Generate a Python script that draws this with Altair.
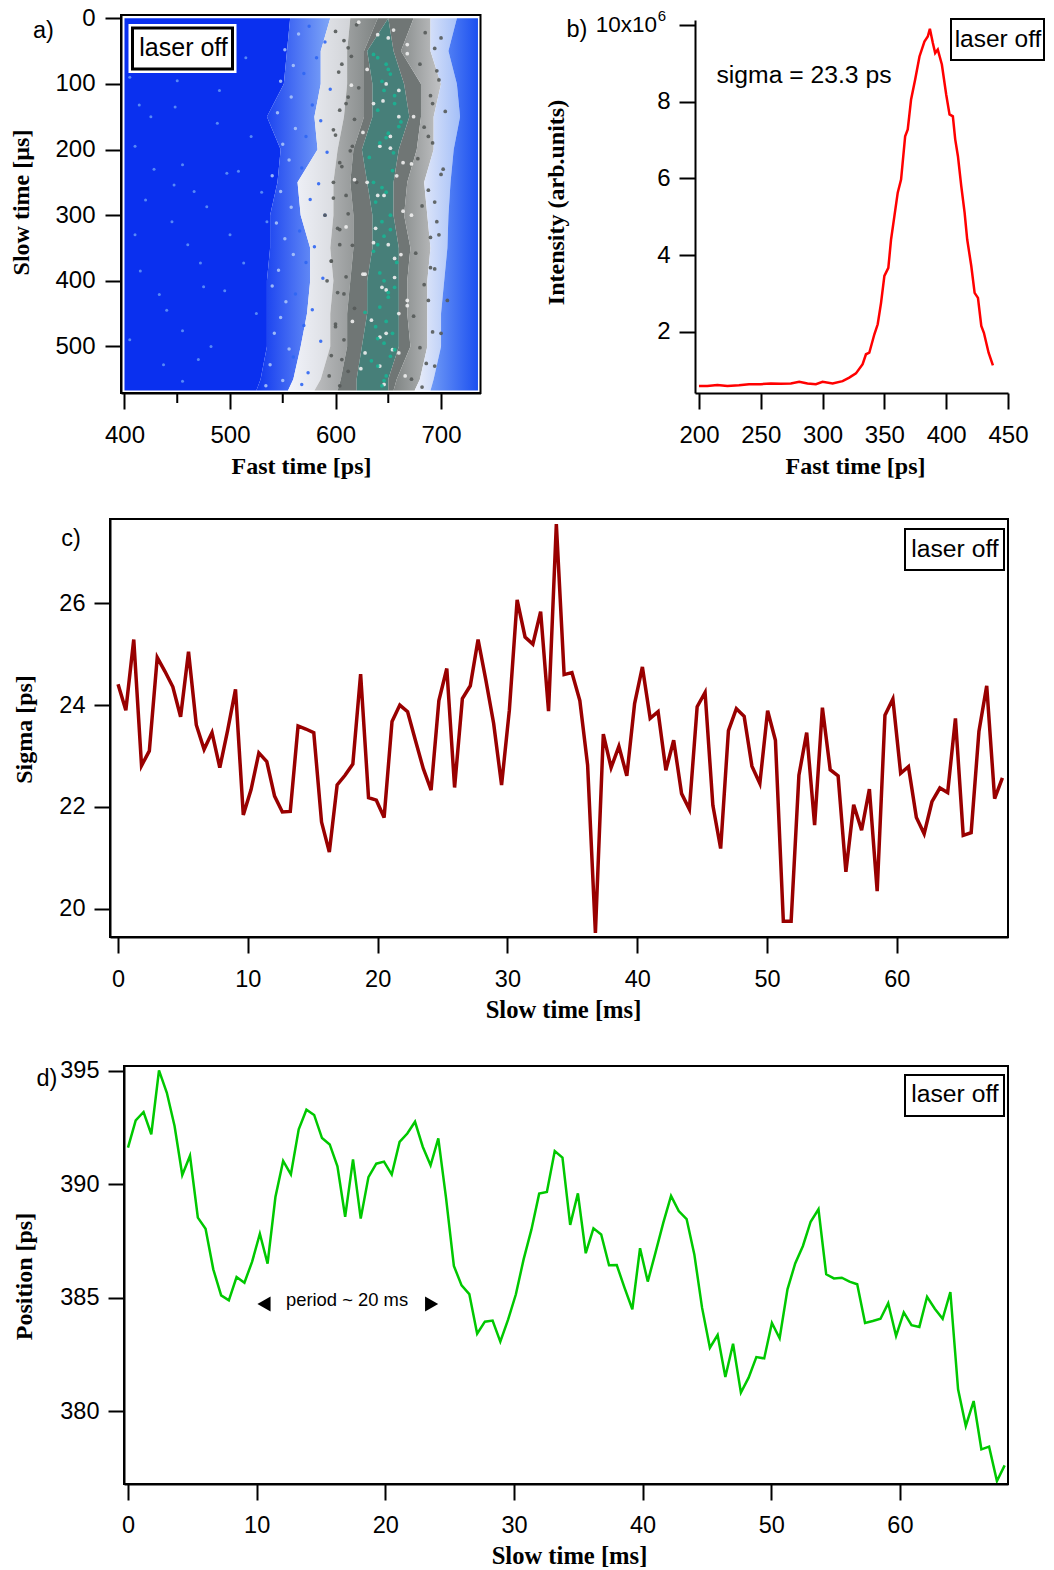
import altair as alt
import pandas as pd

# ---------- panel b ----------
pulse_ps = [200,206.8,214.9,223,232.4,240.5,250,258.1,266.2,274.3,281.1,287.8,294.6,300,308.1,316.2,321.6,327,332.4,335.1,337.8,341.9,344.6,347.3,350,353.2,355.4,358.1,360.8,363.5,366.8,368.9,371.6,374.9,378.4,382.4,385.1,386.8,389.2,391.1,393.2,396.5,400,402.7,405.4,407.3,409.5,412.2,414.9,417,420.3,423,425.7,428.4,430.5,434.3,437.8]
pulse_int = [.59,.59,.62,.59,.61,.64,.64,.66,.65,.66,.70,.66,.64,.70,.66,.72,.81,.92,1.16,1.42,1.46,1.94,2.2,2.76,3.46,3.67,4.41,5.02,5.63,5.97,7.1,7.28,8.06,8.58,9.18,9.57,9.7,9.9,9.53,9.27,9.36,8.97,8.19,7.67,7.62,7.02,6.58,5.8,5.11,4.41,3.72,3.02,2.89,2.16,1.98,1.46,1.13]

# ---------- panels c, d ----------
slow_ms = [0,.6,1.21,1.81,2.41,3.02,3.62,4.22,4.82,5.43,6.03,6.63,7.24,7.84,8.44,9.05,9.65,10.25,10.85,11.46,12.06,12.66,13.27,13.87,14.47,15.08,15.68,16.28,16.88,17.49,18.09,18.69,19.3,19.9,20.5,21.11,21.71,22.31,22.91,23.52,24.12,24.72,25.33,25.93,26.53,27.14,27.74,28.34,28.94,29.55,30.15,30.75,31.36,31.96,32.56,33.17,33.77,34.37,34.97,35.58,36.18,36.78,37.39,37.99,38.59,39.2,39.8,40.4,41,41.61,42.21,42.81,43.42,44.02,44.62,45.23,45.83,46.43,47.03,47.64,48.24,48.84,49.45,50.05,50.65,51.26,51.86,52.46,53.06,53.67,54.27,54.87,55.48,56.08,56.68,57.29,57.89,58.49,59.09,59.7,60.3,60.9,61.51,62.11,62.71,63.32,63.92,64.52,65.12,65.73,66.33,66.93,67.54,68.14]
sigma = [24.41,23.9,25.29,22.81,23.1,24.94,24.66,24.36,23.77,25.05,23.61,23.13,23.46,22.77,23.5,24.31,21.84,22.34,23.06,22.89,22.21,21.9,21.91,23.59,23.53,23.46,21.7,21.11,22.43,22.62,22.84,24.61,22.18,22.13,21.79,23.68,24.0,23.87,23.31,22.75,22.33,24.09,24.72,22.38,24.13,24.38,25.29,24.49,23.64,22.43,23.9,26.07,25.34,25.2,25.84,23.88,27.56,24.6,24.64,24.09,22.82,19.52,23.43,22.77,23.19,22.61,24.03,24.75,23.74,23.87,22.72,23.31,22.26,21.95,23.97,24.25,22.03,21.18,23.5,23.93,23.78,22.8,22.46,23.89,23.31,19.75,19.75,22.62,23.46,21.64,23.95,22.73,22.61,20.72,22.04,21.54,22.35,20.34,23.8,24.12,22.66,22.79,21.79,21.47,22.1,22.37,22.28,23.74,21.44,21.49,23.48,24.38,22.16,22.57]
position = [391.62,392.82,393.19,392.21,395.03,394.04,392.57,390.41,391.26,388.53,388.04,386.25,385.1,384.88,385.91,385.66,386.59,387.82,386.5,389.44,391.03,390.44,392.43,393.29,393.06,392.04,391.76,390.79,388.57,391.1,388.49,390.32,390.91,391.0,390.43,391.87,392.24,392.76,391.66,390.84,392.03,389.4,386.4,385.54,385.16,383.41,383.94,383.99,383.06,384.04,385.15,386.69,388.01,389.59,389.66,391.47,391.18,388.21,389.6,386.96,388.06,387.79,386.43,386.44,385.44,384.49,387.18,385.71,386.99,388.31,389.49,388.82,388.47,386.91,384.56,382.79,383.35,381.5,382.97,380.81,381.47,382.38,382.32,383.88,383.21,385.37,386.51,387.28,388.35,388.9,386.03,385.85,385.88,385.71,385.59,383.88,383.97,384.07,384.76,383.31,384.35,383.79,383.71,385.04,384.51,384.07,385.25,380.96,379.34,380.44,378.31,378.43,376.91,377.6]

# ---------- panel a: streak image, band edges per slow-time row ----------
rows_us = [0,50,100,150,200,250,300,350,400,450,500,550,567]
e1 = [557,554,551,535,548,545,538,538,535,535,535,529,525]
e2 = [595,586,586,580,583,564,567,576,576,573,567,560,555]
e3 = [614,611,611,608,602,598,598,595,598,595,595,586,580]
e4 = [640,627,627,627,617,614,617,617,614,611,611,605,602]
c1 = [650,630,635,635,625,630,635,635,630,630,625,620,620]
c2 = [650,655,665,670,660,655,655,660,660,660,660,650,650]
e5 = [674,662,681,681,677,668,665,671,668,668,671,658,655]
e6 = [690,690,700,693,693,684,687,690,687,687,687,680,675]
e7 = [715,707,715,718,712,709,707,706,703,700,700,693,690]
e8 = [735,735,735,735,735,735,735,735,735,735,735,735,735]
e0 = [400]*13

blue_x = [410,425,448,414,466,455,497,508,437,455,455,475,433,472,513,445,478,420,447,430,405,490,520,462,410,500,440,482,530,415,470,525,450,405,495,515,428,488,535,460]
blue_y = [195,150,135,132,264,223,236,233,528,553,476,409,421,373,373,310,287,277,254,60,90,110,180,35,330,330,445,500,265,385,520,450,95,490,415,60,230,160,310,345]
fringe_x = [565,552,560,548,558,545,562,550,556,540,548,558,544,552,560,546,540,553,548,542,556,538,550,534]
fringe_y = [24,48,72,96,120,144,168,192,216,240,264,288,312,336,360,384,408,432,456,480,504,528,552,560]
inblue_x = [575,590,582,570,595,578,586,572,592,568,584,576,590,566,580,572,588,562,578,570,586,560,574,568]
inblue_y = [12,36,60,84,108,132,156,180,204,228,252,276,300,324,348,372,396,420,444,468,492,516,540,558]
dark_x = [600,606,612,598,604,610,602,596,608,600,606,594,590,604,700,696,692,688,702,694,698,690,706,700,694,598,592,612,616,604,
          620,608,615,603,622,610,618,600,614,606,620,598,612,604,616,596,610,602,618,600,608,596,612,604,
          685,694,680,698,690,704,684,692,678,700,688,682,696,690,676,694,684,688,674,692,680,686,672,682]
dark_y = [20,70,120,170,220,270,320,370,420,470,520,545,300,140,30,80,130,180,230,280,330,380,430,480,530,250,400,45,195,345,
          10,34,58,82,106,130,154,178,202,226,250,274,298,322,346,370,394,418,442,466,490,514,538,560,
          22,46,70,94,118,142,166,190,214,238,262,286,310,334,358,382,406,430,454,478,502,526,550,562]
white_x = [640,655,668,648,636,660,674,642,652,664,630,646,658,672,638,650,662,626,644,656,668,634,648,660,628,642,654,666,
           622,650,668,630,615,645,660,626,652,672,618,640,664,610,636,656,628,648,668,616,642,660,624,646]
white_y = [25,18,40,100,130,110,150,195,180,220,250,270,240,300,320,345,360,390,410,395,430,460,480,450,510,530,505,545,
           6,30,54,78,102,126,150,174,198,222,246,270,294,318,342,366,390,414,438,462,486,510,534,558]
teal_x = [640,648,652,646,656,660,642,650,655,636,648,644,652,640,646,656,650,642,638,654,646,652,640,648,644,
          636,650,644,656,640,662,648,632,654,644,638,652,646,636,658,642,650,628,648,640,656,634,646]
teal_y = [60,70,85,110,130,165,190,175,205,250,265,310,322,345,400,410,425,440,470,480,495,515,530,545,560,
          55,78,96,118,140,158,182,212,232,258,280,300,332,355,372,388,418,448,462,488,505,522,552]

FONT = "Liberation Sans"
SERIF = "Liberation Serif"
one = alt.Data(values=[{"a": 1}])


def ann(text, px, py, ox, oy, size=23, align="center"):
    return alt.Chart(one).mark_text(text=text, font=FONT, fontSize=size, color="black",
                                    align=align, baseline="middle", clip=False).encode(
        x=alt.value(px - ox), y=alt.value(py - oy))


def box(x0, x1, y0, y1, ox, oy, width=2, fill="white", stroke="black", opacity=1):
    return alt.Chart(one).mark_rect(fill=fill, fillOpacity=opacity, stroke=stroke, strokeWidth=width).encode(
        x=alt.value(x0 - ox), x2=alt.value(x1 - ox), y=alt.value(y0 - oy), y2=alt.value(y1 - oy))


def spacer(w, h):
    return alt.Chart(one).mark_rect(opacity=0).encode(
        x=alt.value(0), x2=alt.value(w), y=alt.value(0), y2=alt.value(h)).properties(width=w, height=h)


def axis(values, title, orient, title_x, title_y, label_pad, size=23.5, title_size=24, **kw):
    return alt.Axis(values=values, title=title, orient=orient, grid=False, format="d", domainColor="black",
                    domainWidth=2, tickColor="black", tickWidth=2, tickSize=16, labelFont=FONT, labelFontSize=size,
                    labelColor="black", titleFont=SERIF, titleFontSize=title_size, titleFontWeight="bold",
                    titleColor="black", labelPadding=label_pad, titleX=title_x, titleY=title_y, labelOverlap=False,
                    labelFlush=False, **kw)


def grad(c0, c1):
    return alt.LinearGradient(gradient="linear", x1=0, x2=1, y1=0, y2=0,
                              stops=[alt.GradientStop(offset=0, color=c0), alt.GradientStop(offset=1, color=c1)])


# ---------- panel a ----------
AX, AY, AW, AH = 120.5, 15, 359.5, 378
xa = alt.Scale(domain=[396.7, 737.4], nice=False, zero=False)
ya = alt.Scale(domain=[571, -5], nice=False, zero=False)
xa_axis = axis([400, 500, 600, 700], "Fast time [ps]", "bottom", 180, 61, 14, 24)
ya_axis = axis([0, 100, 200, 300, 400, 500], "Slow time [µs]", "left", -87.5, 187, 10, 24)
edges = pd.DataFrame({"t": rows_us, "e0": e0, "e1": e1, "e2": e2, "e3": e3, "e4": e4, "c1": c1, "c2": c2,
                      "e5": e5, "e6": e6, "e7": e7, "e8": e8})
bands = [("e0", "e1", "#0a30ef"), ("e1", "e2", grad("#0e36ef", "#7fa6f7")), ("e2", "e3", grad("#f2f4fb", "#d2d4d8")),
         ("e3", "e4", grad("#bcbdbf", "#7f8483")), ("e4", "c1", "#707675"), ("c1", "c2", "#477f79"),
         ("c2", "e5", "#707675"), ("e5", "e6", grad("#7f8483", "#c2c3c5")),
         ("e6", "e7", grad("#eceff9", "#a4bff8")), ("e7", "e8", grad("#6f9af6", "#1c50f0"))]
layers_a = []
for lo, hi, col in bands:
    layers_a.append(alt.Chart(edges).mark_area(orient="horizontal", color=col, opacity=1).encode(
        x=alt.X(f"{lo}:Q", scale=xa, axis=xa_axis), x2=f"{hi}:Q",
        y=alt.Y("t:Q", scale=ya, axis=ya_axis)))


def specks(xs, ys, color, size):
    return alt.Chart(pd.DataFrame({"x": xs, "y": ys})).mark_circle(color=color, size=size, opacity=0.9).encode(
        x=alt.X("x:Q", scale=xa, axis=xa_axis), y=alt.Y("y:Q", scale=ya, axis=ya_axis))


layers_a += [specks(blue_x, blue_y, "#5f92f7", 9), specks(fringe_x, fringe_y, "#a9c3fa", 12),
             specks(inblue_x, inblue_y, "#2f66f3", 12), specks(dark_x, dark_y, "#555a59", 14),
             specks(white_x, white_y, "#f0f0f0", 14), specks(teal_x, teal_y, "#19b493", 14)]
minor = alt.Chart(pd.DataFrame({"x": [450, 550, 650]})).mark_rule(color="black", strokeWidth=2, clip=False).encode(
    x=alt.X("x:Q", scale=xa, axis=xa_axis), y=alt.value(AH), y2=alt.value(AH + 10))
panel_a = alt.layer(
    *layers_a, minor,
    box(120.5, 480, 15, 393, AX, AY, opacity=0),
    box(128, 236, 24, 73, AX, AY, width=0, stroke="white"),
    box(132, 232, 28, 69, AX, AY, width=3),
    ann("laser off", 183, 48, AX, AY, 25),
    ann("a)", 43, 31, AX, AY, 23.5),
).properties(width=AW, height=AH)

# ---------- panel b ----------
BX, BY, BW, BH = 694, 20, 313, 373
line_b = alt.Chart(pd.DataFrame({"x": pulse_ps, "y": pulse_int})).mark_line(color="#ff0000", strokeWidth=2.5).encode(
    x=alt.X("x:Q", scale=alt.Scale(domain=[196.8, 450], nice=False, zero=False),
            axis=axis([200, 250, 300, 350, 400, 450], "Fast time [ps]", "bottom", 160, 61, 14, 24)),
    y=alt.Y("y:Q", scale=alt.Scale(domain=[0.41, 10.13], nice=False, zero=False),
            axis=axis([2, 4, 6, 8, 10], "Intensity (arb.units)", "left", -127, 182, 9, 24,
                      labelExpr="datum.value == 10 ? '' : datum.label")))
panel_b = alt.layer(
    line_b,
    box(950, 1043, 19, 60, BX, BY),
    ann("laser off", 997, 40, BX, BY, 24.5),
    ann("sigma = 23.3 ps", 803, 76, BX, BY, 24.7),
    ann("b)", 576, 30, BX, BY, 23.5),
    ann("10x10", 656, 25, BX, BY, 22.5, "right"),
    ann("6", 661, 16, BX, BY, 15),
).properties(width=BW, height=BH)

# ---------- panel c ----------
CX, CY, CW, CH = 110, 518, 898, 418
line_c = alt.Chart(pd.DataFrame({"x": slow_ms, "y": sigma})).mark_line(color="#990000", strokeWidth=3.5).encode(
    x=alt.X("x:Q", scale=alt.Scale(domain=[-0.62, 68.57], nice=False, zero=False),
            axis=axis([0, 10, 20, 30, 40, 50, 60], "Slow time [ms]", "bottom", 453, 61, 14, title_size=24.6)),
    y=alt.Y("y:Q", scale=alt.Scale(domain=[19.44, 27.66], nice=False, zero=False),
            axis=axis([20, 22, 24, 26], "Sigma [ps]", "left", -74, 210, 9)))
panel_c = alt.layer(
    line_c,
    box(110, 1008, 518, 936, CX, CY, opacity=0),
    box(905, 1004, 528, 569, CX, CY),
    ann("laser off", 955, 549, CX, CY, 24.7),
    ann("c)", 71, 538, CX, CY, 23.5),
).properties(width=CW, height=CH)

# ---------- panel d ----------
DX, DY, DW, DH = 124, 1064, 884, 418
xd = alt.Scale(domain=[-0.31, 68.4], nice=False, zero=False)
yd = alt.Scale(domain=[376.78, 395.22], nice=False, zero=False)
xd_axis = axis([0, 10, 20, 30, 40, 50, 60], "Slow time [ms]", "bottom", 445, 60, 13, title_size=24.6)
yd_axis = axis([380, 385, 390, 395], "Position [ps]", "left", -88, 210, 9)
line_d = alt.Chart(pd.DataFrame({"x": slow_ms, "y": position})).mark_line(color="#00c800", strokeWidth=2.5).encode(
    x=alt.X("x:Q", scale=xd, axis=xd_axis), y=alt.Y("y:Q", scale=yd, axis=yd_axis))
arrow_l = alt.Chart(pd.DataFrame({"x": [10.57], "y": [384.72]})).mark_point(
    shape="triangle-left", filled=True, color="black", size=230, opacity=1).encode(
    x=alt.X("x:Q", scale=xd, axis=xd_axis), y=alt.Y("y:Q", scale=yd, axis=yd_axis))
arrow_r = alt.Chart(pd.DataFrame({"x": [23.6], "y": [384.72]})).mark_point(
    shape="triangle-right", filled=True, color="black", size=230, opacity=1).encode(
    x=alt.X("x:Q", scale=xd, axis=xd_axis), y=alt.Y("y:Q", scale=yd, axis=yd_axis))
panel_d = alt.layer(
    line_d, arrow_l, arrow_r,
    box(124, 1008, 1064, 1482, DX, DY, opacity=0),
    box(905, 1004, 1073, 1114, DX, DY),
    ann("laser off", 955, 1093, DX, DY, 24.7),
    ann("period ~ 20 ms", 347, 1298, DX, DY, 18.4),
    ann("d)", 47, 1077, DX, DY, 23.5),
).properties(width=DW, height=DH)

# ---------- layout (nested flush rows add no height, the spacers carry it) ----------
row1 = alt.hconcat(spacer(AX - 8, 1), panel_a, spacer(BX - AX - AW, 1),
                   alt.vconcat(spacer(1, BY - AY), panel_b, spacing=0, bounds="flush"),
                   spacing=0, bounds="flush")
row2 = alt.hconcat(spacer(CX - 8, 1), panel_c, spacing=0, bounds="flush")
row3 = alt.hconcat(spacer(DX - 8, 1), panel_d, spacing=0, bounds="flush")
chart = alt.vconcat(spacer(1, AY - 8), row1, spacer(1, CY - AY + 1), row2, spacer(1, DY - CY + 1), row3,
                    spacing=0, bounds="flush").properties(
    padding={"left": 0, "top": -2, "right": 0, "bottom": 0}, background="white").configure_view(stroke=None)

chart.save("out.html", embed_options={"renderer": "svg", "actions": False})
